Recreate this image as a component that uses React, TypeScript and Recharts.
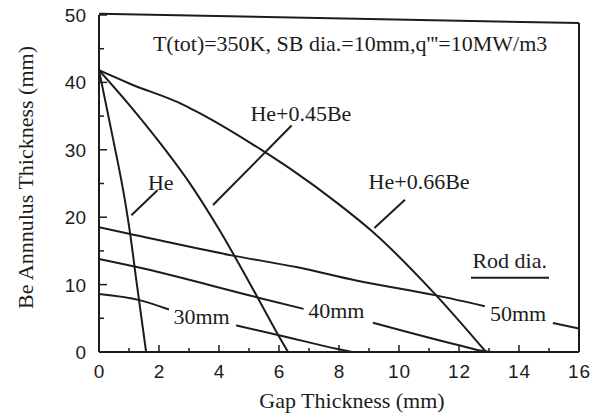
import React from 'react';
import { ComposedChart, Line, XAxis, YAxis, ReferenceLine, ReferenceDot } from 'recharts';

const INK = '#1c1c1c';
const SERIF = "'Liberation Serif', 'Times New Roman', serif";
const SANS = "'Liberation Sans', Arial, sans-serif";

// Curves (gap thickness mm -> Be annulus thickness mm)
const heCurve = [
  { x: 0, y: 41.8 }, { x: 0.46, y: 31.8 }, { x: 0.86, y: 22.6 }, { x: 1.04, y: 17.5 },
  { x: 1.26, y: 10.1 }, { x: 1.57, y: 0 },
];
const he045Curve = [
  { x: 0, y: 41.8 }, { x: 1.0, y: 36.7 }, { x: 2.0, y: 31.2 }, { x: 3.0, y: 25.2 },
  { x: 4.0, y: 18.2 }, { x: 5.0, y: 10.4 }, { x: 6.0, y: 2.3 }, { x: 6.3, y: 0 },
];
const he066Curve = [
  { x: 0, y: 41.8 }, { x: 1.03, y: 39.8 }, { x: 2.85, y: 36.6 }, { x: 3.37, y: 35.4 },
  { x: 5.48, y: 29.8 }, { x: 6.37, y: 27.2 }, { x: 8.0, y: 21.9 }, { x: 9.13, y: 17.8 },
  { x: 11.24, y: 8.4 }, { x: 12.9, y: 0 },
];
// Rod diameter lines (null = gap for the label)
const rod50 = [
  { x: 0, y: 18.5 }, { x: 1.04, y: 17.5 }, { x: 4.46, y: 14.3 }, { x: 6.58, y: 12.6 },
  { x: 8.57, y: 10.6 }, { x: 11.24, y: 8.4 }, { x: 12.86, y: 6.8 }, { x: 14, y: null },
  { x: 15.13, y: 4.3 }, { x: 16, y: 3.5 },
];
const rod40 = [
  { x: 0, y: 13.8 }, { x: 1.26, y: 12.6 }, { x: 5.28, y: 8.1 }, { x: 6.82, y: 6.4 },
  { x: 8, y: null }, { x: 9.13, y: 4.35 }, { x: 12.0, y: 1.0 }, { x: 12.8, y: 0.15 }, { x: 13.1, y: 0 },
];
const rod30 = [
  { x: 0, y: 8.6 }, { x: 1.35, y: 7.7 }, { x: 2.33, y: 6.3 }, { x: 3.4, y: null },
  { x: 4.57, y: 3.95 }, { x: 6.0, y: 2.5 }, { x: 8.0, y: 0.4 }, { x: 8.45, y: 0 },
];

// Leader lines and underline
const leaders = [
  [{ x: 1.95, y: 24.0 }, { x: 1.08, y: 20.3 }],
  [{ x: 6.42, y: 33.6 }, { x: 3.8, y: 21.8 }],
  [{ x: 10.2, y: 22.6 }, { x: 9.18, y: 18.4 }],
  [{ x: 12.4, y: 11.0 }, { x: 15.0, y: 11.0 }],
];

// Text annotations (centre positions in data units)
const annotations = [
  { text: "T(tot)=350K, SB dia.=10mm,q'''=10MW/m3", x: 8.37, y: 45.8 },
  { text: 'He+0.45Be', x: 6.73, y: 35.4 },
  { text: 'He+0.66Be', x: 10.67, y: 25.3 },
  { text: 'He', x: 2.06, y: 25.2 },
  { text: 'Rod dia.', x: 13.69, y: 13.6 },
  { text: '30mm', x: 3.42, y: 5.3 },
  { text: '40mm', x: 7.91, y: 6.2 },
  { text: '50mm', x: 13.97, y: 5.7 },
];

const xTicks = [0, 1, 2, 3, 4, 5, 6, 7, 8, 9, 10, 11, 12, 13, 14, 15, 16];
const yTicks = [0, 5, 10, 15, 20, 25, 30, 35, 40, 45, 50];
const frameTop = [{ x: 0, y: 50.2 }, { x: 16, y: 48.8 }];
const frameRight = [{ x: 16, y: 48.8 }, { x: 16, y: 0 }];

const XTick = (props: any) => {
  const { x, y, payload } = props;
  const v = payload.value;
  const major = v % 2 === 0;
  return (
    <g>
      <line x1={x} y1={y} x2={x} y2={y - (major ? 7 : 4)} stroke={INK} strokeWidth={1.5} />
      {major && (
        <text x={x + 0.5} y={y + 26} textAnchor="middle" fontFamily={SANS} fontSize={19} letterSpacing={1} fill={INK}>
          {v}
        </text>
      )}
    </g>
  );
};

const YTick = (props: any) => {
  const { x, y, payload } = props;
  const v = payload.value;
  const major = v % 10 === 0;
  return (
    <g>
      <line x1={x} y1={y} x2={x + (major ? 8 : 5)} y2={y} stroke={INK} strokeWidth={1.5} />
      {major && (
        <text x={x - 13} y={y + 7} textAnchor="end" fontFamily={SANS} fontSize={19} fill={INK}>
          {v}
        </text>
      )}
    </g>
  );
};

const series = [heCurve, he045Curve, he066Curve, rod50, rod40, rod30];

export default function App() {
  return (
    <div style={{ position: 'absolute', left: 0, top: 0, width: 605, height: 419, background: '#fff' }}>
      <ComposedChart width={605} height={419} margin={{ top: 15, right: 26, bottom: 0, left: 0 }}>
        <XAxis
          type="number"
          dataKey="x"
          domain={[0, 16]}
          ticks={xTicks}
          interval={0}
          allowDataOverflow
          height={67}
          tickSize={0}
          tickMargin={0}
          tickLine={false}
          tick={<XTick />}
          axisLine={{ stroke: INK, strokeWidth: 2 }}
          label={(p: any) => {
            const vb = p.viewBox;
            return (
              <text x={vb.x + vb.width / 2 + 13} y={vb.y + 56} textAnchor="middle" fontFamily={SERIF} fontSize={22} fill={INK}>
                Gap Thickness (mm)
              </text>
            );
          }}
        />
        <YAxis
          type="number"
          domain={[0, 50]}
          ticks={yTicks}
          interval={0}
          allowDataOverflow
          width={99}
          tickSize={0}
          tickMargin={0}
          tickLine={false}
          tick={<YTick />}
          axisLine={{ stroke: INK, strokeWidth: 2 }}
          label={(p: any) => {
            const vb = p.viewBox;
            const cx = vb.x + 25;
            const cy = vb.y + vb.height / 2 - 6;
            return (
              <text transform={`translate(${cx},${cy}) rotate(-90)`} textAnchor="middle" dy="0.35em" fontFamily={SERIF} fontSize={22} fill={INK}>
                Be Annnulus Thickness (mm)
              </text>
            );
          }}
        />
        <ReferenceLine segment={frameTop} stroke={INK} strokeWidth={2} ifOverflow="visible" />
        <ReferenceLine segment={frameRight} stroke={INK} strokeWidth={2} ifOverflow="visible" />
        {series.map((d, i) => (
          <Line
            key={i}
            data={d}
            dataKey="y"
            type="monotone"
            stroke={INK}
            strokeWidth={2}
            dot={false}
            activeDot={false}
            connectNulls={false}
            isAnimationActive={false}
          />
        ))}
        {leaders.map((s, i) => (
          <ReferenceLine key={'l' + i} segment={s} stroke={INK} strokeWidth={2} ifOverflow="visible" />
        ))}
        {annotations.map((a) => (
          <ReferenceDot
            key={a.text}
            x={a.x}
            y={a.y}
            r={0}
            ifOverflow="visible"
            shape={(p: any) => (
              <text x={p.cx} y={p.cy} dy="0.35em" textAnchor="middle" fontFamily={SERIF} fontSize={22} fill={INK}>
                {a.text}
              </text>
            )}
          />
        ))}
      </ComposedChart>
    </div>
  );
}
